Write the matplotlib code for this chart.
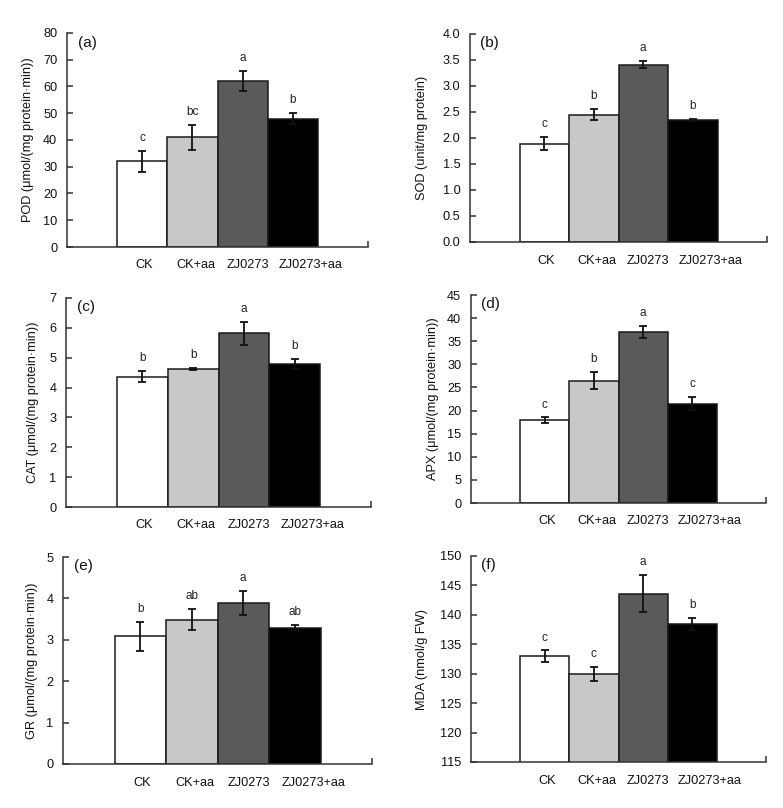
import matplotlib
matplotlib.use("Agg")
import matplotlib.pyplot as plt
from matplotlib.ticker import FormatStrFormatter, FixedLocator

plt.rcParams['font.family'] = ['Liberation Sans', 'DejaVu Sans']

groups = ["CK", "CK+aa", "ZJ0273", "ZJ0273+aa"]
colors = ["#ffffff", "#c8c8c8", "#5a5a5a", "#000000"]

pod = [32.0, 41.0, 62.0, 48.0]
pod_err = [4.0, 4.7, 3.8, 2.0]
pod_let = ["c", "bc", "a", "b"]

sod = [1.89, 2.45, 3.41, 2.35]
sod_err = [0.13, 0.11, 0.07, 0.02]
sod_let = ["c", "b", "a", "b"]

cat = [4.37, 4.63, 5.82, 4.79]
cat_err = [0.20, 0.03, 0.38, 0.18]
cat_let = ["b", "b", "a", "b"]

apx = [17.9, 26.5, 37.0, 21.5]
apx_err = [0.6, 1.75, 1.4, 1.4]
apx_let = ["c", "b", "a", "c"]

gr = [3.08, 3.49, 3.90, 3.29]
gr_err = [0.36, 0.26, 0.29, 0.06]
gr_let = ["b", "ab", "a", "ab"]

mda = [133.0, 130.0, 143.6, 138.4]
mda_err = [0.95, 1.2, 3.1, 1.0]
mda_let = ["c", "c", "a", "b"]

panels = [
    dict(tag="(a)", vals=pod, err=pod_err, let=pod_let, ylim=(0, 80), step=10, fmt="%d",
         ylabel="POD (μmol/(mg protein·min))", box=(67, 33, 368, 247), lab=-0.11),
    dict(tag="(b)", vals=sod, err=sod_err, let=sod_let, ylim=(0, 4.0), step=0.5, fmt="%.1f",
         ylabel="SOD (unit/mg protein)", box=(470, 34, 767, 242), lab=-0.14),
    dict(tag="(c)", vals=cat, err=cat_err, let=cat_let, ylim=(0, 7), step=1, fmt="%d",
         ylabel="CAT (μmol/(mg protein·min))", box=(66, 298, 371, 507), lab=-0.09),
    dict(tag="(d)", vals=apx, err=apx_err, let=apx_let, ylim=(0, 45), step=5, fmt="%d",
         ylabel="APX (μmol/(mg protein·min))", box=(471, 295, 766, 503), lab=-0.11),
    dict(tag="(e)", vals=gr, err=gr_err, let=gr_let, ylim=(0, 5), step=1, fmt="%d",
         ylabel="GR (μmol/(mg protein·min))", box=(63, 557, 372, 764), lab=-0.08),
    dict(tag="(f)", vals=mda, err=mda_err, let=mda_let, ylim=(115, 150), step=5, fmt="%d",
         ylabel="MDA (nmol/g FW)", box=(471, 556, 766, 762), lab=-0.145),
]

# category-label positions (labels are spread a little wider than the bars)
label_pos = [0.04, 1.06, 2.1, 3.36]

W, H = 783, 808
fig = plt.figure(figsize=(W / 100, H / 100), dpi=100)

for p in panels:
    x0, y0, x1, y1 = p["box"]
    ax = fig.add_axes([x0 / W, 1 - y1 / H, (x1 - x0) / W, (y1 - y0) / H])
    xs = list(range(len(groups)))
    ax.bar(xs, p["vals"], width=1.0, color=colors, edgecolor="#1a1a1a", linewidth=1.1, zorder=2)
    ax.errorbar(xs, p["vals"], yerr=p["err"], fmt="none", ecolor="#111111",
                elinewidth=1.3, capsize=3, capthick=1.3, zorder=3)
    lo, hi = p["ylim"]
    for x, v, e, l in zip(xs, p["vals"], p["err"], p["let"]):
        ax.annotate(l, (x, v + e), xytext=(0, 5), textcoords="offset points",
                    ha="center", va="bottom", fontsize=8.5, color="#222222")
    ax.set_xlim(-1.5, 4.5)
    ax.set_ylim(lo, hi)
    n = int(round((hi - lo) / p["step"]))
    ax.set_yticks([lo + i * p["step"] for i in range(n + 1)])
    ax.yaxis.set_major_formatter(FormatStrFormatter(p["fmt"]))
    ax.set_xticks(label_pos)
    ax.set_xticklabels(groups)
    ax.xaxis.set_minor_locator(FixedLocator([4.5]))
    ax.tick_params(axis="x", which="major", length=0, pad=9, labelsize=9.2, colors="#111111")
    ax.tick_params(axis="x", which="minor", length=4, direction="in", width=1.1, color="#333333")
    ax.tick_params(axis="y", direction="in", length=4, width=1.1, pad=7, labelsize=9.2,
                   color="#333333", labelcolor="#111111")
    for s in ("top", "right"):
        ax.spines[s].set_visible(False)
    for s in ("left", "bottom"):
        ax.spines[s].set_linewidth(1.1)
        ax.spines[s].set_color("#333333")
    ax.set_ylabel(p["ylabel"], fontsize=9.2, color="#111111")
    ax.yaxis.set_label_coords(p["lab"], 0.5)
    ax.text(0.035, 0.955, p["tag"], transform=ax.transAxes, ha="left", va="center",
            fontsize=11, color="#111111")

fig.savefig("out.png", dpi=100)
